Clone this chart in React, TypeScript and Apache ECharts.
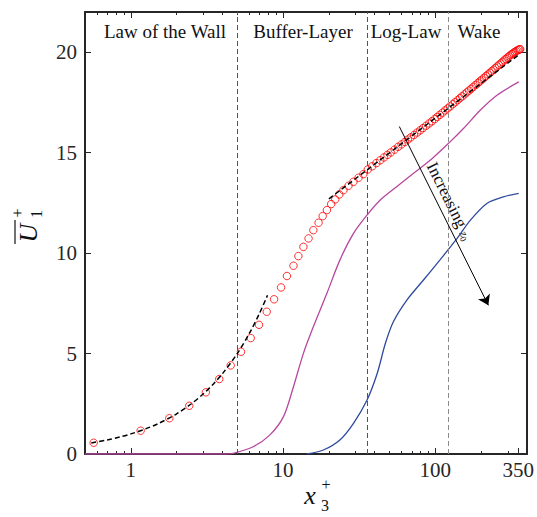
import React, { useEffect, useRef } from 'react';
import * as echarts from 'echarts';

// ---------- data ----------
const dnsProfile: [number, number][] = [
  [0.57, 0.56], [1.16, 1.16], [1.79, 1.78], [2.42, 2.40], [3.11, 3.07], [3.81, 3.73],
  [4.53, 4.41], [5.29, 5.09], [6.13, 5.77], [6.95, 6.43], [7.81, 7.08], [8.73, 7.70],
  [9.70, 8.29], [10.6, 8.86], [11.7, 9.37], [12.6, 9.85], [13.6, 10.31], [14.7, 10.73],
  [15.8, 11.14], [17.1, 11.51], [18.2, 11.84], [19.4, 12.14], [20.7, 12.44], [22.0, 12.67],
  [23.4, 12.92], [24.9, 13.13], [26.9, 13.35], [29.0, 13.55], [31.3, 13.75], [33.7, 13.93],
  [36, 14.16], [38.5, 14.32], [41, 14.48], [43.5, 14.62], [46, 14.76], [48.5, 14.89],
  [51, 15.01], [54, 15.15], [57, 15.29], [60, 15.41], [63, 15.53], [66, 15.65],
  [69, 15.76], [72.5, 15.88], [76, 16.0], [79.5, 16.11], [83, 16.22], [87, 16.34],
  [91, 16.45], [95, 16.56], [99, 16.67], [103, 16.78], [107, 16.88], [111.5, 16.99],
  [116, 17.1], [120.5, 17.2], [125, 17.3], [130, 17.41], [135, 17.51], [140, 17.61],
  [145, 17.71], [150, 17.8], [155.5, 17.9], [161, 18.0], [166.5, 18.09], [172, 18.18],
  [178, 18.28], [184, 18.37], [190, 18.46], [196, 18.55], [202, 18.63], [208.5, 18.72],
  [215, 18.81], [221.5, 18.89], [228, 18.97], [234.5, 19.05], [241, 19.13], [248, 19.21],
  [255, 19.29], [262, 19.37], [269, 19.44], [276, 19.52], [283, 19.59], [290, 19.66],
  [297, 19.73], [304, 19.79], [311, 19.85], [318, 19.91], [325, 19.96], [332, 20.01],
  [339, 20.05], [346, 20.09], [352, 20.12], [357, 20.14], [361, 20.15],
];

const viscousSublayer: [number, number][] = [
  [0.55, 0.55], [0.7, 0.7], [0.85, 0.85], [1, 1], [1.25, 1.25], [1.5, 1.5], [2, 2],
  [2.5, 2.5], [3, 3], [3.5, 3.5], [4, 4], [5, 5], [6, 6], [7, 7], [7.9, 7.9],
];

const logLaw: [number, number][] = [[20, 12.7], [350, 19.85]];

const profileMid: [number, number][] = [
  [0.5, 0], [4.2, 0], [4.69, 0.03], [6.36, 0.36], [8.2, 0.95], [10.06, 1.86],
  [11.7, 3.35], [13.6, 5.01], [15.8, 6.33], [19.4, 8.0], [23.6, 9.65], [29, 10.98],
  [35.6, 11.89], [43.5, 12.64], [55.7, 13.3], [71.9, 13.97], [92.9, 14.63], [122, 15.46],
  [153, 16.2], [197, 17.11], [254, 17.86], [353, 18.52],
];

const profileHigh: [number, number][] = [
  [14.3, 0], [18.4, 0.2], [23.6, 0.7], [29, 1.53], [35.6, 2.69], [41.5, 4.01],
  [47, 5.51], [53, 6.58], [65, 7.66], [83.6, 8.66], [107, 9.65], [139, 10.73],
  [170, 11.64], [218, 12.47], [280, 12.8], [353, 12.97],
];

const arrowStart: [number, number] = [58, 16.3];
const arrowEnd: [number, number] = [223, 7.4];

const regionBounds = [5, 35.7, 122];
const regionNames = ['Law of the Wall', 'Buffer-Layer', 'Log-Law', 'Wake'];

const xLabelValues = [1, 10, 100, 350];
const xMajorTicks = [1, 10, 100, 350];
const xMinorTicks = [0.6, 0.7, 0.8, 0.9, 2, 3, 4, 5, 6, 7, 8, 9, 20, 30, 40, 50, 60, 70, 80, 90, 200, 300];
const yTicks = [0, 5, 10, 15, 20];

const X_MIN = 0.5;
const X_MAX = 400;
const Y_MIN = 0;
const Y_MAX = 22;

// ---------- styling ----------
const SERIF = "'Liberation Serif', 'DejaVu Serif', serif";
const AXIS_COLOR = '#262626';
const TEXT_COLOR = '#111111';

export default function App() {
  const ref = useRef<HTMLDivElement>(null);

  useEffect(() => {
    if (!ref.current) return;
    const chart = echarts.init(ref.current, undefined, { renderer: 'svg' });

    const frameLine = { show: true, lineStyle: { color: AXIS_COLOR, width: 2 } };

    const xAxisBase = {
      type: 'log' as const,
      logBase: 10,
      min: X_MIN,
      max: X_MAX,
      splitLine: { show: false },
      minorTick: { show: false },
      minorSplitLine: { show: false },
    };

    const yAxisBase = {
      type: 'value' as const,
      min: Y_MIN,
      max: Y_MAX,
      splitLine: { show: false },
    };

    const tickStyle = { color: AXIS_COLOR, width: 1 };

    const regionText = (i: number, x: number) => ({
      type: 'text', x, y: 31,
      style: {
        text: regionNames[i], fontFamily: SERIF, fontSize: 19, fill: TEXT_COLOR,
        textAlign: 'center', textVerticalAlign: 'middle',
      },
    });

    const option: any = {
      animation: false,
      backgroundColor: '#ffffff',
      grid: { left: 85, right: 10, top: 12, bottom: 63, containLabel: false },
      xAxis: [
        {
          ...xAxisBase,
          position: 'bottom',
          axisLine: frameLine,
          axisTick: { show: true, inside: true, length: 6, customValues: xMajorTicks, lineStyle: tickStyle },
          axisLabel: {
            show: true,
            customValues: xLabelValues,
            formatter: (v: number) => String(Math.round(v)),
            margin: 5,
            fontFamily: SERIF,
            fontSize: 21,
            color: AXIS_COLOR,
          },
        },
        {
          ...xAxisBase,
          position: 'bottom',
          axisLine: { show: false },
          axisTick: { show: true, inside: true, length: 3, customValues: xMinorTicks, lineStyle: tickStyle },
          axisLabel: { show: false },
        },
        {
          ...xAxisBase,
          position: 'top',
          axisLine: frameLine,
          axisTick: { show: true, inside: true, length: 6, customValues: xMajorTicks, lineStyle: tickStyle },
          axisLabel: { show: false },
        },
        {
          ...xAxisBase,
          position: 'top',
          axisLine: { show: false },
          axisTick: { show: true, inside: true, length: 3, customValues: xMinorTicks, lineStyle: tickStyle },
          axisLabel: { show: false },
        },
      ],
      yAxis: [
        {
          ...yAxisBase,
          position: 'left',
          axisLine: frameLine,
          axisTick: { show: true, inside: true, length: 6, customValues: yTicks, lineStyle: tickStyle },
          axisLabel: {
            show: true,
            customValues: yTicks,
            margin: 8,
            fontFamily: SERIF,
            fontSize: 21,
            color: AXIS_COLOR,
          },
        },
        {
          ...yAxisBase,
          position: 'right',
          axisLine: frameLine,
          axisTick: { show: true, inside: true, length: 6, customValues: yTicks, lineStyle: tickStyle },
          axisLabel: { show: false },
        },
      ],
      series: [
        {
          name: 'high z0',
          type: 'line',
          data: profileHigh,
          showSymbol: false,
          symbol: 'none',
          smooth: 0.3,
          lineStyle: { color: '#2E4A9E', width: 1.3 },
          z: 2,
          silent: true,
          markLine: {
            silent: true,
            symbol: 'none',
            label: { show: false },
            data: regionBounds.map((v, i) => ({
              xAxis: v,
              lineStyle: { color: i === 2 ? '#8a8a8a' : '#555555', type: [5, 3], width: 1 },
            })),
          },
        },
        {
          name: 'mid z0',
          type: 'line',
          data: profileMid,
          showSymbol: false,
          symbol: 'none',
          smooth: 0.3,
          lineStyle: { color: '#B8479E', width: 1.3 },
          z: 3,
          silent: true,
        },
        {
          name: 'DNS',
          type: 'scatter',
          data: dnsProfile,
          symbol: 'circle',
          symbolSize: 7.5,
          itemStyle: { color: 'rgba(0,0,0,0)', borderColor: '#ff0000', borderWidth: 1 },
          z: 4,
          silent: true,
        },
        {
          name: 'viscous',
          type: 'line',
          data: viscousSublayer,
          showSymbol: false,
          symbol: 'none',
          smooth: 0.3,
          lineStyle: { color: '#000000', width: 1.5, type: [5, 3] },
          z: 5,
          silent: true,
        },
        {
          name: 'log law',
          type: 'line',
          data: logLaw,
          showSymbol: false,
          symbol: 'none',
          lineStyle: { color: '#000000', width: 1.5, type: [5, 3] },
          z: 5,
          silent: true,
          markLine: {
            silent: true,
            symbol: ['none', 'arrow'],
            symbolSize: 10,
            label: { show: false },
            lineStyle: { color: '#000000', width: 1, type: 'solid' },
            data: [[{ coord: arrowStart }, { coord: arrowEnd }]],
          },
        },
      ],
      graphic: [
        regionText(0, 165),
        regionText(1, 303),
        regionText(2, 406),
        regionText(3, 479),
        // "Increasing z0" annotation along the arrow
        {
          type: 'text', x: 450, y: 201, rotation: -1.11,
          style: {
            text: '{a|Increasing }{b|z}{c|0}',
            textAlign: 'center',
            textVerticalAlign: 'middle',
            rich: {
              a: { fontFamily: SERIF, fontSize: 17, fill: TEXT_COLOR },
              b: { fontFamily: SERIF, fontStyle: 'italic', fontSize: 12, fill: TEXT_COLOR, padding: [4, 0, 0, 0] },
              c: { fontFamily: SERIF, fontSize: 9, fill: TEXT_COLOR, padding: [10, 0, 0, 0] },
            },
          },
        },
        // y-axis title: overline U, superscript +, subscript 1 (rotated)
        {
          type: 'group', x: 28, y: 233, rotation: Math.PI / 2,
          children: [
            {
              type: 'text', x: 0, y: 0,
              style: { text: 'U', fontFamily: SERIF, fontStyle: 'italic', fontSize: 26, fill: TEXT_COLOR, textAlign: 'center', textVerticalAlign: 'middle' },
            },
            {
              type: 'line',
              shape: { x1: -11, y1: -13, x2: 13, y2: -13 },
              style: { stroke: TEXT_COLOR, lineWidth: 1.2 },
            },
            {
              type: 'text', x: 20, y: -11,
              style: { text: '+', fontFamily: SERIF, fontSize: 16, fill: TEXT_COLOR, textAlign: 'center', textVerticalAlign: 'middle' },
            },
            {
              type: 'text', x: 19, y: 8,
              style: { text: '1', fontFamily: SERIF, fontSize: 16, fill: TEXT_COLOR, textAlign: 'center', textVerticalAlign: 'middle' },
            },
          ],
        },
        // x-axis title: x_3^+
        {
          type: 'text', x: 310, y: 495,
          style: { text: 'x', fontFamily: SERIF, fontStyle: 'italic', fontSize: 26, fill: TEXT_COLOR, textAlign: 'center', textVerticalAlign: 'middle' },
        },
        {
          type: 'text', x: 326, y: 484,
          style: { text: '+', fontFamily: SERIF, fontSize: 16, fill: TEXT_COLOR, textAlign: 'center', textVerticalAlign: 'middle' },
        },
        {
          type: 'text', x: 325, y: 505,
          style: { text: '3', fontFamily: SERIF, fontSize: 16, fill: TEXT_COLOR, textAlign: 'center', textVerticalAlign: 'middle' },
        },
      ],
    };

    chart.setOption(option);
    return () => {
      chart.dispose();
    };
  }, []);

  return (
    <div
      ref={ref}
      style={{ position: 'absolute', left: 0, top: 0, width: 537, height: 517, background: '#fff' }}
    />
  );
}
